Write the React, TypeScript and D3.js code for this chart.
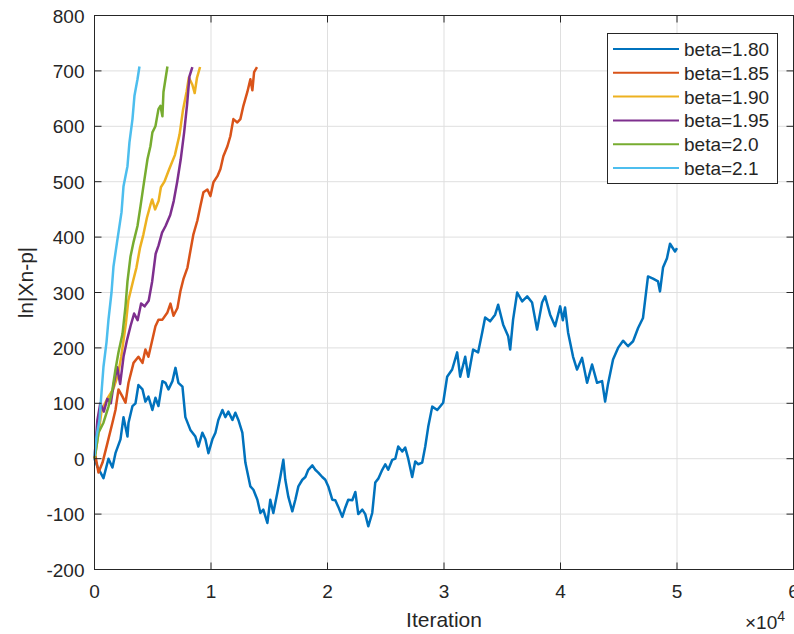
import React from "react";
import * as d3 from "d3";

const seriesNames = ["beta=1.80", "beta=1.85", "beta=1.90", "beta=1.95", "beta=2.0", "beta=2.1"];
const seriesColors = ["#0072BD", "#D95319", "#EDB120", "#7E2F8E", "#77AC30", "#4DBEEE"];

const beta180: [number, number][] = [[0,0],[260,-15],[770,-35],[1200,0],[1540,-16],[1800,10],[2230,35],[2490,75],[2830,40],[2920,65],[3260,95],[3520,100],[3770,133],[4120,125],[4370,103],[4630,112],[4970,88],[5230,110],[5490,95],[5830,140],[6090,137],[6350,125],[6690,140],[6950,164],[7200,137],[7550,130],[7800,75],[8230,52],[8660,40],[8920,22],[9260,47],[9520,35],[9780,10],[10120,35],[10380,47],[10630,70],[10980,88],[11230,75],[11490,85],[11840,70],[12090,83],[12350,70],[12690,47],[12950,-7],[13210,-33],[13380,-50],[13640,-56],[13980,-74],[14240,-98],[14490,-92],[14840,-116],[15090,-74],[15350,-98],[15690,-62],[15950,-33],[16210,-2],[16380,-38],[16640,-69],[16980,-95],[17240,-74],[17500,-50],[17840,-38],[18100,-33],[18350,-20],[18700,-12],[18950,-20],[19210,-25],[19550,-33],[19810,-38],[20070,-50],[20410,-74],[20670,-75],[20930,-87],[21270,-105],[21530,-88],[21780,-74],[22130,-75],[22390,-60],[22640,-100],[22990,-92],[23240,-100],[23500,-122],[23840,-98],[24100,-43],[24360,-36],[24700,-20],[24960,-10],[25210,-20],[25560,-2],[25820,0],[26070,22],[26420,13],[26670,20],[26930,0],[27270,-33],[27530,-5],[27790,-10],[28130,-7],[28390,22],[28650,58],[28990,94],[29420,88],[29930,101],[30270,148],[30700,161],[31130,192],[31390,148],[31820,184],[32080,148],[32500,197],[32930,192],[33280,228],[33530,255],[33960,248],[34390,260],[34650,278],[35080,242],[35510,221],[35680,197],[35930,251],[36280,300],[36710,284],[37140,293],[37560,282],[37990,233],[38420,282],[38680,293],[39110,260],[39540,239],[39970,275],[40200,250],[40390,273],[40650,228],[41080,184],[41420,161],[41850,182],[42280,137],[42710,170],[43140,137],[43570,140],[43830,103],[44080,135],[44510,179],[44940,200],[45370,213],[45800,203],[46230,212],[46660,236],[47080,254],[47510,329],[47940,325],[48370,320],[48540,302],[48800,345],[49140,362],[49400,388],[49830,374],[50000,380]];

const beta185: [number, number][] = [[0,0],[90,4],[340,-25],[690,-7],[1120,29],[1540,65],[1800,88],[2060,125],[2400,112],[2660,101],[2920,137],[3350,173],[3770,184],[4120,173],[4370,197],[4630,184],[4970,215],[5230,239],[5490,251],[5830,251],[6260,264],[6520,280],[6780,258],[7120,272],[7380,303],[7630,324],[7980,345],[8230,375],[8490,405],[8830,430],[9090,456],[9350,481],[9690,486],[9950,474],[10210,499],[10550,510],[10810,523],[11060,546],[11410,564],[11660,582],[11920,613],[12260,607],[12520,613],[12780,637],[13120,662],[13380,685],[13550,665],[13700,698],[13950,707]];

const beta190: [number, number][] = [[0,0],[300,40],[600,85],[900,100],[1200,112],[1600,125],[2000,150],[2300,185],[2700,245],[2900,285],[3300,320],[3600,345],[3900,380],[4200,405],[4500,435],[4800,458],[4950,468],[5200,450],[5500,465],[5700,490],[6000,500],[6400,522],[6900,548],[7300,585],[7600,630],[7900,662],[8100,688],[8400,675],[8600,660],[8800,688],[9060,707]];

const beta195: [number, number][] = [[0,0],[250,70],[500,100],[800,85],[1100,108],[1400,100],[1650,135],[1950,165],[2200,135],[2500,185],[2800,215],[3100,240],[3400,262],[3700,250],[4000,280],[4300,275],[4650,285],[4950,320],[5250,370],[5500,385],[5800,408],[6100,420],[6500,440],[6800,465],[7100,500],[7400,540],[7700,590],[7950,640],[8150,690],[8400,707]];

const beta200: [number, number][] = [[0,0],[90,10],[340,47],[770,65],[1200,94],[1540,125],[1800,161],[2060,192],[2400,225],[2660,275],[2830,320],[3090,365],[3350,391],[3690,420],[3950,456],[4200,492],[4550,541],[4800,564],[4970,589],[5230,600],[5490,631],[5660,637],[5830,618],[5920,662],[6260,708]];

const beta210: [number, number][] = [[0,5],[170,40],[430,70],[600,119],[770,166],[1030,210],[1200,251],[1460,300],[1630,347],[1970,396],[2320,445],[2490,492],[2830,528],[3000,571],[3260,613],[3430,655],[3690,685],[3860,708]];

const seriesData = [beta180, beta185, beta190, beta195, beta200, beta210];

const xTicks = [0, 10000, 20000, 30000, 40000, 50000, 60000];
const xTickLabels = ["0", "1", "2", "3", "4", "5", "6"];
const yTicks = [-200, -100, 0, 100, 200, 300, 400, 500, 600, 700, 800];

const W = 794;
const H = 634;
const left = 94.5;
const right = 793.5;
const top = 15.5;
const bottom = 569.5;
const FONT = "'Liberation Sans', Arial, Helvetica, sans-serif";
const axisColor = "#262626";
const gridColor = "#dfdfdf";

export default function App() {
  const x = d3.scaleLinear().domain([0, 60000]).range([left, right]);
  const y = d3.scaleLinear().domain([-200, 800]).range([bottom, top]);
  const line = d3
    .line<[number, number]>()
    .x((d) => x(d[0]))
    .y((d) => y(d[1]));
  const tickLen = 7;

  const legendX = 607.5;
  const legendY = 33.5;
  const legendW = 170;
  const legendH = 150;
  const rowY = (i: number) => 49 + i * 23.8;

  return (
    <svg
      width={W}
      height={H}
      style={{ position: "absolute", left: 0, top: 0, background: "#fff" }}
      fontFamily={FONT}
    >
      <rect x={0} y={0} width={W} height={H} fill="#fff" />
      {xTicks.map((t) => (
        <line key={"gx" + t} x1={x(t)} x2={x(t)} y1={top} y2={bottom} stroke={gridColor} strokeWidth={1} />
      ))}
      {yTicks.map((t) => (
        <line key={"gy" + t} x1={left} x2={right} y1={y(t)} y2={y(t)} stroke={gridColor} strokeWidth={1} />
      ))}
      {seriesData.map((s, i) => (
        <path
          key={"s" + i}
          d={line(s) || ""}
          fill="none"
          stroke={seriesColors[i]}
          strokeWidth={2.5}
          strokeLinejoin="round"
        />
      ))}
      <rect x={left} y={top} width={right - left} height={bottom - top} fill="none" stroke={axisColor} strokeWidth={1} />
      {xTicks.map((t) => (
        <g key={"tx" + t}>
          <line x1={x(t)} x2={x(t)} y1={bottom} y2={bottom - tickLen} stroke={axisColor} />
          <line x1={x(t)} x2={x(t)} y1={top} y2={top + tickLen} stroke={axisColor} />
        </g>
      ))}
      {yTicks.map((t) => (
        <g key={"ty" + t}>
          <line x1={left} x2={left + tickLen} y1={y(t)} y2={y(t)} stroke={axisColor} />
          <line x1={right} x2={right - tickLen} y1={y(t)} y2={y(t)} stroke={axisColor} />
        </g>
      ))}
      {xTicks.map((t, i) => (
        <text key={"lx" + t} x={x(t)} y={bottom + 28} textAnchor="middle" fontSize={19} fill={axisColor}>
          {xTickLabels[i]}
        </text>
      ))}
      {yTicks.map((t) => (
        <text key={"ly" + t} x={left - 10} y={y(t) + 7} textAnchor="end" fontSize={19} fill={axisColor}>
          {String(t)}
        </text>
      ))}
      <text x={745} y={629} fontSize={19} fill={axisColor}>
        ×10
        <tspan dy={-8} fontSize={14}>4</tspan>
      </text>
      <text x={x(30000)} y={627} textAnchor="middle" fontSize={21} fill={axisColor}>
        Iteration
      </text>
      <text
        transform={`translate(33, ${(top + bottom) / 2 - 10}) rotate(-90)`}
        textAnchor="middle"
        fontSize={21}
        fill={axisColor}
      >
        ln|Xn-p|
      </text>
      <rect x={legendX} y={legendY} width={legendW} height={legendH} fill="#fff" stroke={axisColor} strokeWidth={1} />
      {seriesNames.map((n, i) => (
        <g key={"lg" + i}>
          <line x1={613} x2={679} y1={rowY(i)} y2={rowY(i)} stroke={seriesColors[i]} strokeWidth={2} />
          <text x={684} y={rowY(i) + 7} fontSize={19} fill={axisColor}>
            {n}
          </text>
        </g>
      ))}
    </svg>
  );
}
